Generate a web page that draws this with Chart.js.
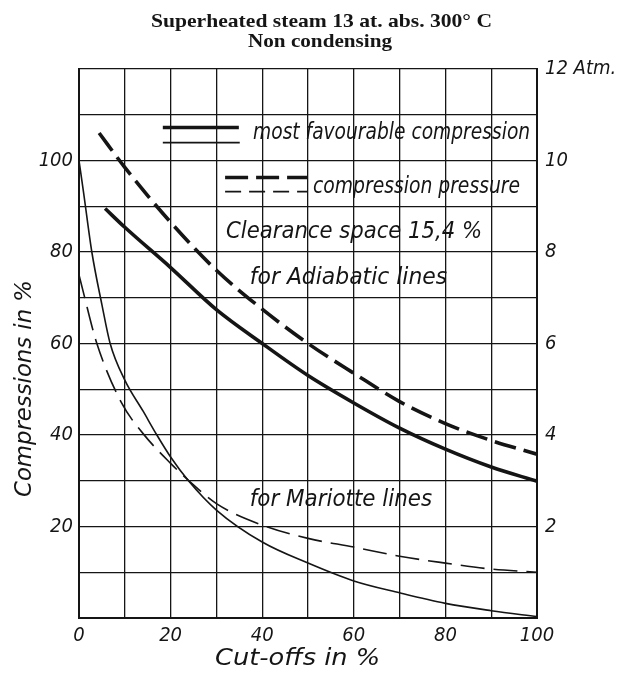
<!DOCTYPE html>
<html>
<head>
<meta charset="utf-8">
<script src="https://cdn.jsdelivr.net/npm/chart.js@4"></script>
<style>
  html, body { margin: 0; background: #fff; }
</style>
</head>
<body>
<canvas id="chart" width="626" height="675"></canvas>
<script>
// ── Data (cut-off % vs compression %) ──
// adiabatic lines
const adiaFavX   = [5.7, 10, 20, 30, 40, 50, 60, 70, 80, 90, 100];
const adiaFavY   = [89.5, 85.4, 76.6, 67.4, 60, 53, 47, 41.5, 36.9, 33, 29.9];
const adiaPresX  = [4.4, 10, 20, 30, 40, 50, 60, 70, 80, 90, 100];
const adiaPresY  = [106, 98.5, 86.5, 76, 67.5, 60, 53.5, 47.3, 42.5, 38.8, 35.8];
// Mariotte lines
const marFavX    = [0, 1, 2.8, 5, 6.8, 10, 14, 17, 20, 23.9, 30, 40, 50, 60, 70, 80, 90, 100];
const marFavY    = [100, 93, 80, 68.5, 60, 52, 45.2, 40, 35.2, 30, 23.6, 16.6, 12, 8.1, 5.5, 3.2, 1.6, 0.3];
const marPresX   = [0, 1, 3.9, 9.3, 14, 20, 24, 30, 40, 50, 60, 70, 80, 90, 100];
const marPresY   = [75, 71, 60, 47, 40.3, 33.8, 30, 25, 20.3, 17.4, 15.5, 13.5, 12, 10.7, 10];

// ── Axis labels ──
const xTickLabels  = [0, 20, 40, 60, 80, 100];
const yTickLabels  = [20, 40, 60, 80, 100];
const atmTickLabels = [2, 4, 6, 8, 10];

const INK = '#151515';
const HAND = '"DejaVu Sans Condensed", "DejaVu Sans", sans-serif';

function zip(xs, ys) {
    return xs.map((x, i) => ({ x: x, y: ys[i] }));
}

function line(data, width, dash) {
    return {
        data: data,
        borderColor: INK,
        borderWidth: width,
        borderDash: dash,
        pointRadius: 0,
        fill: false,
        cubicInterpolationMode: 'monotone',
        yAxisID: 'y'
    };
}

// draw text squeezed/stretched to a given width
function fitText(ctx, text, x, y, w, font) {
    ctx.font = font;
    const m = ctx.measureText(text).width;
    ctx.save();
    ctx.translate(x, y);
    ctx.scale(w / m, 1);
    ctx.fillText(text, 0, 0);
    ctx.restore();
}

// ── Titles, legend and notes ──
const notes = {
    id: 'notes',
    afterDraw(chart) {
        const ctx = chart.ctx;
        const sx = v => chart.scales.x.getPixelForValue(v);
        const sy = v => chart.scales.y.getPixelForValue(v);
        ctx.save();
        ctx.fillStyle = INK;
        ctx.strokeStyle = INK;
        ctx.textAlign = 'left';
        ctx.textBaseline = 'alphabetic';

        const serif = 'bold 19px "Liberation Serif", serif';
        fitText(ctx, 'Superheated steam 13 at. abs. 300° C', 151, 27, 341, serif);
        fitText(ctx, 'Non condensing', 248, 47, 144, serif);

        const hand = 'italic 23px ' + HAND;

        // legend samples
        const sample = (x0, x1, y, w, dash) => {
            ctx.beginPath();
            ctx.lineWidth = w;
            ctx.setLineDash(dash);
            ctx.moveTo(sx(x0), sy(y));
            ctx.lineTo(sx(x1), sy(y));
            ctx.stroke();
        };
        sample(18.3, 34.9, 107.2, 3.6, []);
        sample(18.3, 35.1, 103.9, 1.6, []);
        sample(31.9, 49.8, 96.3, 3.6, [23, 8]);
        sample(31.9, 49.8, 93.2, 1.6, [16, 8]);
        ctx.setLineDash([]);

        const note = (text, x0, x1, y) => fitText(ctx, text, sx(x0), sy(y), sx(x1) - sx(x0), hand);
        note('most favourable compression', 38.0, 98.5, 104.8);
        note('compression pressure', 51.1, 96.3, 93);
        note('Clearance space 15,4 %', 32.1, 88.0, 83);
        note('for Adiabatic lines', 37.3, 80.4, 73.1);
        note('for Mariotte lines', 37.3, 77.1, 24.5);

        // axis titles
        fitText(ctx, 'Cut-offs in %', 215, 665, 165, hand);
        ctx.save();
        ctx.translate(31, 497);
        ctx.rotate(-Math.PI / 2);
        fitText(ctx, 'Compressions in %', 0, 0, 217, hand);
        ctx.restore();

        ctx.restore();
    }
};

const tickFont = { family: HAND, size: 20, style: 'italic' };

new Chart(document.getElementById('chart'), {
    type: 'line',
    data: {
        datasets: [
            line(zip(adiaFavX, adiaFavY), 3.6, []),
            line(zip(adiaPresX, adiaPresY), 3.6, [22, 8]),
            line(zip(marFavX, marFavY), 1.6, []),
            line(zip(marPresX, marPresY), 1.6, [24, 9])
        ]
    },
    options: {
        responsive: false,
        animation: false,
        devicePixelRatio: 1,
        layout: { padding: { top: 69, left: 0, right: 0, bottom: 0 } },
        plugins: {
            legend: { display: false },
            title: { display: false },
            tooltip: { enabled: false }
        },
        scales: {
            x: {
                type: 'linear',
                min: 0, max: 100,
                afterFit: s => { s.height = 57; },
                grid: { color: INK, lineWidth: 1.3, drawTicks: false },
                border: { color: INK, width: 2 },
                ticks: {
                    stepSize: 10,
                    autoSkip: false,
                    maxRotation: 0,
                    padding: 6,
                    color: INK,
                    font: tickFont,
                    callback: v => xTickLabels.includes(v) ? String(v) : ''
                }
            },
            y: {
                type: 'linear',
                position: 'left',
                min: 0, max: 120,
                afterFit: s => { s.width = 79; },
                grid: { color: INK, lineWidth: 1.3, drawTicks: false },
                border: { color: INK, width: 2 },
                ticks: {
                    stepSize: 10,
                    autoSkip: false,
                    padding: 6,
                    color: INK,
                    font: tickFont,
                    callback: v => yTickLabels.includes(v) ? String(v) : ''
                }
            },
            y2: {
                type: 'linear',
                position: 'right',
                min: 0, max: 12,
                afterFit: s => { s.width = 89; },
                grid: { display: false, drawTicks: false },
                border: { color: INK, width: 2 },
                ticks: {
                    stepSize: 2,
                    autoSkip: false,
                    padding: 8,
                    color: INK,
                    font: tickFont,
                    callback: v => v === 12 ? '12 Atm.' : (atmTickLabels.includes(v) ? String(v) : '')
                }
            }
        }
    },
    plugins: [notes]
});
</script>
</body>
</html>
